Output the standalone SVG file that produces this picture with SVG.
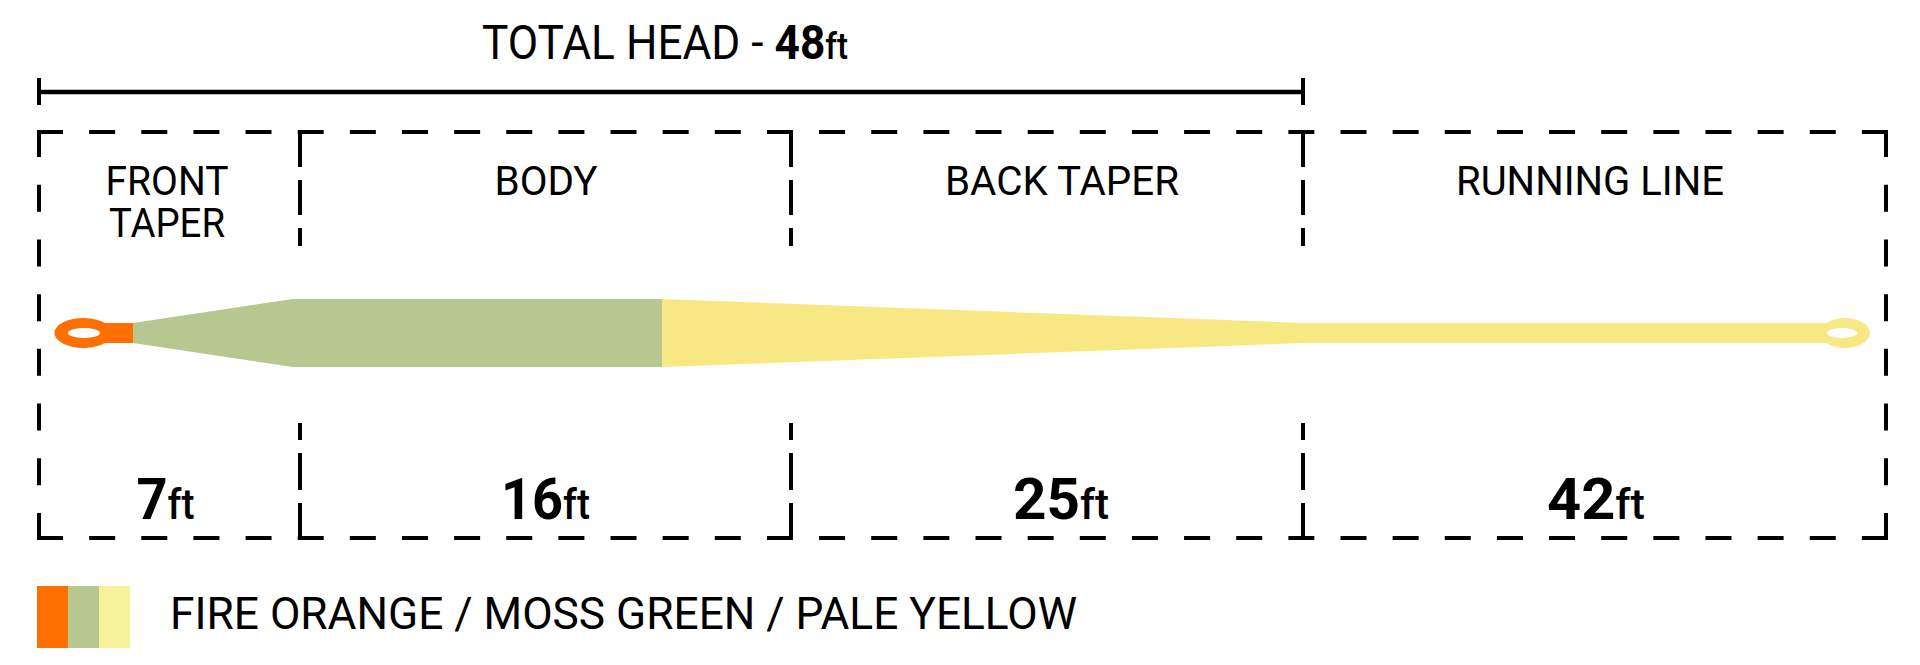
<svg xmlns="http://www.w3.org/2000/svg" width="1920" height="665" viewBox="0 0 1920 665">
  <style>
    .lbl { font-family: Roboto, "Liberation Sans", sans-serif; font-weight: 400; fill: #000; }
    .val { font-family: Roboto, "Liberation Sans", sans-serif; fill: #000; }
    .num { font-weight: 700; font-size: 58px; }
    .unit { font-weight: 500; font-size: 42px; }
    .dash { stroke: #000; stroke-width: 4; fill: none; }
    .solid { stroke: #000; fill: none; }
  </style>
  <rect width="1920" height="665" fill="#fff"/>

  <g id="total-head">
    <path class="solid" stroke-width="4.5" d="M39 92 H1303"/>
    <path class="solid" stroke-width="4" d="M39 78 V105 M1303 78 V105"/>
    <text class="val" x="482" y="59" textLength="366" lengthAdjust="spacingAndGlyphs"><tspan font-size="48" font-weight="400">TOTAL HEAD - </tspan><tspan font-size="48" font-weight="700">48</tspan><tspan font-size="36" font-weight="500">ft</tspan></text>
  </g>

  <g id="frame">
    <line class="dash" x1="37" y1="132" x2="1888" y2="132" stroke-dasharray="26 26.14"/>
    <line class="dash" x1="37" y1="538" x2="1888" y2="538" stroke-dasharray="26 26.14"/>
    <line class="dash" x1="39" y1="130" x2="39" y2="540" stroke-dasharray="27 27.71"/>
    <line class="dash" x1="1886" y1="130" x2="1886" y2="540" stroke-dasharray="27 27.71"/>
    <path class="dash" d="M300 130 V167 M300 180 V215 M300 228 V246 M300 423 V440 M300 453 V490 M300 503 V540"/>
    <path class="dash" d="M791 130 V167 M791 180 V215 M791 228 V246 M791 423 V440 M791 453 V490 M791 503 V540"/>
    <path class="dash" d="M1303 130 V167 M1303 180 V215 M1303 228 V246 M1303 423 V440 M1303 453 V490 M1303 503 V540"/>
  </g>

  <g id="front-taper">
    <text class="lbl" x="105.5" y="195" font-size="41" textLength="123" lengthAdjust="spacingAndGlyphs">FRONT</text>
    <text class="lbl" x="109" y="237" font-size="41" textLength="116" lengthAdjust="spacingAndGlyphs">TAPER</text>
    <text class="val" x="136.5" y="519" textLength="58" lengthAdjust="spacingAndGlyphs"><tspan class="num">7</tspan><tspan class="unit">ft</tspan></text>
  </g>

  <g id="body">
    <text class="lbl" x="494.5" y="195" font-size="41" textLength="103" lengthAdjust="spacingAndGlyphs">BODY</text>
    <text class="val" x="501" y="519" textLength="89" lengthAdjust="spacingAndGlyphs"><tspan class="num">16</tspan><tspan class="unit">ft</tspan></text>
  </g>

  <g id="back-taper">
    <text class="lbl" x="945" y="195" font-size="41" textLength="234" lengthAdjust="spacingAndGlyphs">BACK TAPER</text>
    <text class="val" x="1013" y="519" textLength="96" lengthAdjust="spacingAndGlyphs"><tspan class="num">25</tspan><tspan class="unit">ft</tspan></text>
  </g>

  <g id="running-line">
    <text class="lbl" x="1456" y="195" font-size="41" textLength="268" lengthAdjust="spacingAndGlyphs">RUNNING LINE</text>
    <text class="val" x="1547" y="519" textLength="98" lengthAdjust="spacingAndGlyphs"><tspan class="num">42</tspan><tspan class="unit">ft</tspan></text>
  </g>

  <g id="fly-line">
    <path fill="#FF7000" fill-rule="evenodd" d="M134 323 L105 323 A29 15 0 1 0 105 343 L134 343 Z M100 333 A16 5 0 1 0 68 333 A16 5 0 1 0 100 333 Z"/>
    <path fill="#B8C78F" d="M133 323 L293 299 L663 299 L663 367 L293 367 L133 343 Z"/>
    <path fill="#F7E884" fill-rule="evenodd" d="M662 299 L1303 323 L1826.4 323 A25 15 0 1 1 1826.4 343 L1303 343 L662 367 Z M1857 333 A15 5 0 1 0 1827 333 A15 5 0 1 0 1857 333 Z"/>
  </g>

  <g id="legend">
    <rect x="37" y="586" width="31" height="62" fill="#FF7000"/>
    <rect x="68" y="586" width="31" height="62" fill="#B8C78F"/>
    <rect x="99" y="586" width="31" height="62" fill="#F6F29C"/>
    <text class="lbl" x="170" y="629" font-size="44" textLength="907" lengthAdjust="spacingAndGlyphs">FIRE ORANGE / MOSS GREEN / PALE YELLOW</text>
  </g>
</svg>
